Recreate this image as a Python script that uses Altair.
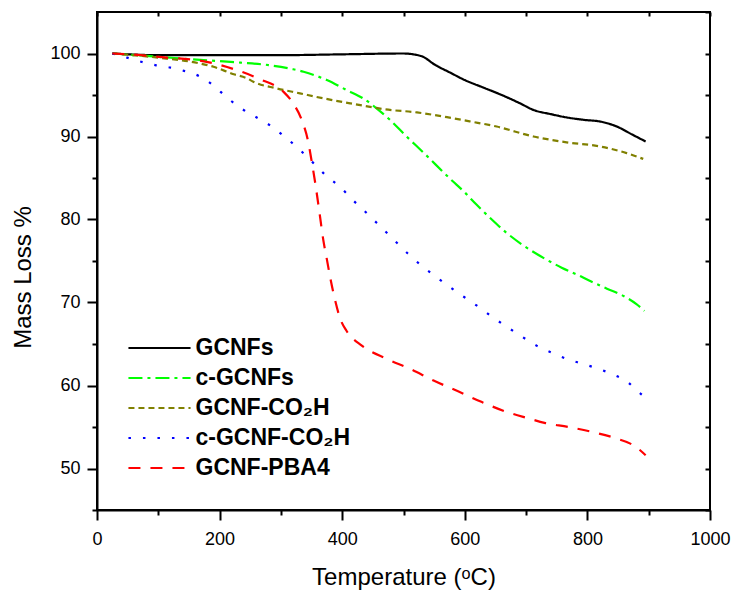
import altair as alt
import pandas as pd

FONT = "Liberation Sans"

series_names = ["GCNFs", "c-GCNFs", "GCNF-CO₂H", "c-GCNF-CO₂H", "GCNF-PBA4"]
series_colors = ["#000000", "#00FF00", "#808000", "#0000FF", "#FF0000"]
series_dashes = [[1, 0], [14, 5, 3, 5], [6, 4], [2.5, 12], [12, 10]]

gcnfs_t = [25, 100, 200, 300, 400, 500, 516, 532, 550, 576, 600, 630, 657, 690, 712, 740, 766, 795, 821, 848, 874, 895]
gcnfs_m = [100.0, 99.8, 99.8, 99.8, 99.9, 100.0, 99.9, 99.6, 98.7, 97.7, 96.8, 95.9, 95.1, 94.0, 93.2, 92.7, 92.3, 92.0, 91.8, 91.2, 90.2, 89.4]

cgcnfs_t = [25, 100, 174, 234, 280, 320, 337, 375, 407, 434, 456, 478, 505, 532, 579, 598, 619, 644, 668, 693, 723, 758, 782, 807, 831, 856, 880, 893]
cgcnfs_m = [100.0, 99.6, 99.2, 98.9, 98.6, 98.1, 97.8, 96.8, 95.6, 94.6, 93.4, 92.0, 90.0, 88.1, 84.7, 83.4, 81.8, 80.0, 78.4, 77.0, 75.6, 74.2, 73.4, 72.5, 71.7, 70.9, 69.8, 69.0]

co2h_t = [25, 100, 168, 190, 223, 245, 255, 293, 331, 369, 413, 451, 467, 522, 573, 610, 652, 712, 766, 821, 864, 891]
co2h_m = [100.0, 99.5, 98.8, 98.4, 97.5, 97.0, 96.6, 95.8, 95.2, 94.6, 94.0, 93.5, 93.3, 92.9, 92.3, 91.8, 91.2, 90.0, 89.3, 88.8, 88.0, 87.3]

cco2h_t = [25, 49, 72, 95, 120, 142, 166, 189, 212, 235, 258, 281, 304, 328, 349, 372, 397, 418, 441, 463, 485, 507, 530, 553, 577, 600, 624, 646, 670, 693, 717, 747, 770, 793, 818, 840, 864, 887, 895]
cco2h_m = [100.0, 99.5, 99.0, 98.6, 98.3, 97.9, 97.3, 96.2, 94.7, 93.4, 92.4, 91.4, 90.1, 88.6, 87.1, 85.4, 83.9, 82.3, 80.7, 79.1, 77.5, 75.9, 74.4, 73.1, 71.8, 70.6, 69.4, 68.2, 67.0, 65.9, 64.8, 63.8, 63.1, 62.6, 62.0, 61.4, 60.5, 59.0, 58.6]

pba4_t = [25, 71, 114, 152, 185, 228, 266, 304, 320, 334, 345, 350, 356, 363, 369, 375, 381, 388, 397, 407, 432, 473, 511, 549, 589, 628, 665, 706, 730, 769, 808, 848, 870, 886, 895]
pba4_m = [100.0, 99.8, 99.5, 99.3, 98.9, 98.0, 96.9, 95.4, 94.0, 92.0, 89.2, 87.1, 84.4, 80.8, 77.6, 75.2, 72.8, 70.4, 68.0, 66.6, 64.8, 63.2, 62.0, 60.6, 59.3, 58.0, 56.9, 56.0, 55.5, 55.0, 54.4, 53.6, 53.0, 52.2, 51.6]

x_ticks = list(range(0, 1001, 100))
y_ticks = list(range(45, 101, 5))
y_ticks_right = list(range(45, 106, 5))

rows = []
for name, ts, ms in zip(series_names,
                        [gcnfs_t, cgcnfs_t, co2h_t, cco2h_t, pba4_t],
                        [gcnfs_m, cgcnfs_m, co2h_m, cco2h_m, pba4_m]):
    for t, m in zip(ts, ms):
        rows.append({"series": name, "temp": t, "mass": m})
df = pd.DataFrame(rows)

legend = alt.Legend(
    orient="none", legendX=30, legendY=321, title=None,
    symbolType="M-1.44,0H1.44", symbolSize=1860, symbolStrokeWidth=2,
    symbolFillColor="transparent", symbolOffset=9.5,
    labelFont=FONT, labelFontSize=23, labelFontWeight="bold", labelColor="black",
    labelOffset=13, rowPadding=0, padding=0, clipHeight=30,
)

minor_dash = {"condition": {"test": "datum.value % 200 !== 0", "value": [5, 20]}, "value": [1, 0]}
minor_dash_y = {"condition": {"test": "datum.value % 10 !== 0", "value": [5, 20]}, "value": [1, 0]}

x_axis = alt.Axis(
    orient="bottom", values=x_ticks, format="d",
    labelExpr="datum.value % 200 === 0 ? datum.label : ''",
    ticks=True, tickSize=10, tickDash=minor_dash,
    tickWidth=2, tickColor="black", domainWidth=2, domainColor="black",
    labelFont=FONT, labelFontSize=18, labelColor="black", labelPadding=10,
    labelFlush=False, labelOverlap=False, grid=False,
    title="Temperature (ᵒC)", titleFont=FONT, titleFontSize=24,
    titleFontWeight="normal", titleColor="black", titlePadding=17,
)
y_axis = alt.Axis(
    orient="left", values=y_ticks, format="d",
    labelExpr="datum.value % 10 === 0 ? datum.label : ''",
    ticks=True, tickSize=10, tickDash=minor_dash_y,
    tickWidth=2, tickColor="black", domainWidth=2, domainColor="black",
    labelFont=FONT, labelFontSize=18, labelColor="black", labelPadding=7,
    labelFlush=False, labelOverlap=False, grid=False,
    title="Mass Loss %", titleFont=FONT, titleFontSize=24,
    titleFontWeight="normal", titleColor="black",
    titleX=-74, titleY=265, titleAlign="center", titleBaseline="middle", titleAngle=270,
)

x_scale = alt.Scale(domain=[0, 1000], nice=False)
y_scale = alt.Scale(domain=[45, 105], nice=False, zero=False)

lines = alt.Chart(df).mark_line(strokeWidth=2.2, interpolate="monotone", strokeCap="butt").encode(
    x=alt.X("temp:Q", scale=x_scale, axis=x_axis),
    y=alt.Y("mass:Q", scale=y_scale, axis=y_axis),
    color=alt.Color("series:N", scale=alt.Scale(domain=series_names, range=series_colors), legend=legend),
    strokeDash=alt.StrokeDash("series:N", scale=alt.Scale(domain=series_names, range=series_dashes), legend=legend),
)

frame_axes = alt.Chart(df).mark_line(strokeOpacity=0).encode(
    x=alt.X("temp:Q", scale=x_scale, axis=alt.Axis(
        orient="top", values=x_ticks, labels=False, domain=False, offset=-4, ticks=True,
        tickSize=4, tickWidth=2, tickColor="black", grid=False, title=None)),
    y=alt.Y("mass:Q", scale=y_scale, axis=alt.Axis(
        orient="right", values=y_ticks_right, labels=False, domain=False, offset=-5, ticks=True,
        tickSize=5, tickWidth=2, tickColor="black", grid=False, title=None)),
    detail="series:N",
)

chart = alt.layer(lines, frame_axes).resolve_axis(x="independent", y="independent").properties(
    width=613, height=498,
    autosize=alt.AutoSizeParams(type="none"),
    padding={"left": 97, "top": 12, "right": 25, "bottom": 80},
    background="white",
).configure_view(stroke="black", strokeWidth=2)

chart.save("out.html", embed_options={"renderer": "svg", "actions": False})
